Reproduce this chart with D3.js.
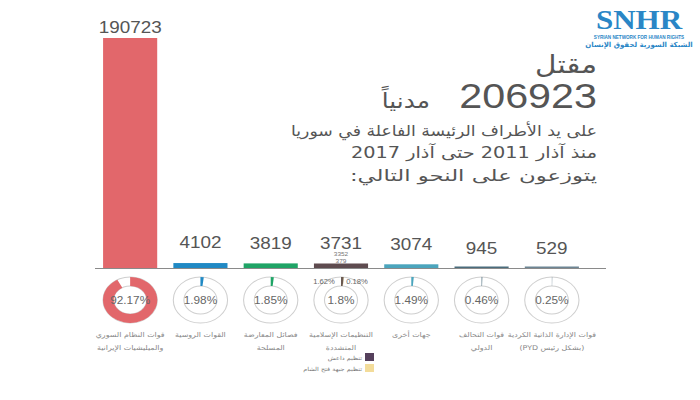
<!DOCTYPE html>
<html>
<head>
<meta charset="utf-8">
<script src="https://cdn.jsdelivr.net/npm/d3@7"></script>
<style>
  html, body { margin: 0; padding: 0; background: #fff; }
  svg { display: block; font-family: "Liberation Sans", "DejaVu Sans", sans-serif; }
</style>
</head>
<body>
<div id="chart"></div>
<script>
// ---- data ----
const categories = ["regime", "russia", "opposition", "extremist", "others", "coalition", "kurdish"];
const victims = [190723, 4102, 3819, 3731, 3074, 945, 529];
const shares = [92.17, 1.98, 1.85, 1.8, 1.49, 0.46, 0.25];
const shareLabels = ["92.17%", "1.98%", "1.85%", "1.8%", "1.49%", "0.46%", "0.25%"];
const barColors = ["#e2676b", "#2089c4", "#1fa466", "#5e4b4f", "#4ba5bd", "#4a6c7c", "#6d8594"];
const categoryLabels = [
  ["قوات النظام السوري", "والميليشيات الإيرانية"],
  ["القوات الروسية"],
  ["فصائل المعارضة", "المسلحة"],
  ["التنظيمات الإسلامية", "المتشددة"],
  ["جهات أخرى"],
  ["قوات التحالف", "الدولي"],
  ["قوات الإدارة الذاتية الكردية", "(بشكل رئيس PYD)"]
];
// split of the extremist groups
const subGroups = ["تنظيم داعش", "تنظيم جبهة فتح الشام"];
const subVictims = [3352, 379];
const subShares = [1.62, 0.18];
const subShareLabels = ["1.62%", "0.18%"];
const subColors = ["#55405c", "#f3dc9a"];

const W = 700, H = 400;
const SX = 1.18; // the picture is a bit wider than tall

const svg = d3.select("#chart").append("svg")
  .attr("width", W).attr("height", H);

// stretched text helper (rtl flips the anchor, svg anchors follow direction)
function stext(g, x, y, str, size, fill, anchor, rtl) {
  let a = anchor || "middle";
  if (rtl && a !== "middle") a = a === "end" ? "start" : "end";
  const t = g.append("text")
    .attr("transform", `translate(${x},${y}) scale(${SX},1)`)
    .attr("text-anchor", a)
    .attr("font-size", size)
    .attr("fill", fill)
    .text(str);
  if (rtl) t.attr("direction", "rtl").attr("font-family", "DejaVu Sans");
  return t;
}

// stretch a text horizontally so it spans a given width
function fitWidth(t, x, y, width) {
  const len = t.node().getComputedTextLength();
  t.attr("transform", `translate(${x},${y}) scale(${width / len},1)`);
}

// ---- scales ----
const baseY = 268;
const x = d3.scaleBand().domain(categories).range([95, 587]).paddingInner(0.23).paddingOuter(0.115);
const y = d3.scaleLinear().domain([0, d3.max(victims)]).range([baseY, 38]);

// ---- bars ----
const bars = svg.append("g");
categories.forEach((c, i) => {
  const h = Math.max(baseY - y(victims[i]), 1.5);
  bars.append("rect")
    .attr("x", x(c)).attr("width", x.bandwidth())
    .attr("y", baseY - h).attr("height", h)
    .attr("fill", barColors[i]);
  const cx = x(c) + x.bandwidth() / 2;
  const ly = h > 20 ? baseY - h - 5 : baseY - 12 - 1.6 * h;
  stext(bars, cx, ly, victims[i], 16, "#555");
});
svg.append("line")
  .attr("x1", 95).attr("x2", 606).attr("y1", baseY + 0.5).attr("y2", baseY + 0.5)
  .attr("stroke", "#8a8a8a").attr("stroke-width", 1);

// sub values under the extremist bar
const exCx = x("extremist") + x.bandwidth() / 2;
subVictims.forEach((v, j) => {
  stext(svg, exCx, 256 + j * 7, v, 5.5, "#777");
});

// ---- rings ----
const rOut = 23, rIn = 14, ringY = 300;
const arc = d3.arc().innerRadius(rIn).outerRadius(rOut);
const tau = 2 * Math.PI;
categories.forEach((c, i) => {
  const cx = x(c) + x.bandwidth() / 2;
  const g = svg.append("g").attr("transform", `translate(${cx},${ringY}) scale(${SX},1)`);
  g.append("circle").attr("r", rOut).attr("fill", "none").attr("stroke", "#cfcfcf").attr("stroke-width", 0.9);
  g.append("circle").attr("r", rIn).attr("fill", "none").attr("stroke", "#cfcfcf").attr("stroke-width", 0.9);
  if (c === "extremist") {
    let a0 = 0;
    subShares.forEach((s, j) => {
      const a1 = a0 + s / 100 * tau;
      g.append("path").attr("d", arc({ startAngle: a0, endAngle: a1 }))
        .attr("fill", j === 0 ? "#6b5a52" : "#c9b27a");
      a0 = a1;
    });
  } else {
    g.append("path").attr("d", arc({ startAngle: 0, endAngle: shares[i] / 100 * tau })).attr("fill", barColors[i]);
  }
  g.append("text").attr("y", 3.5).attr("text-anchor", "middle")
    .attr("font-size", 10).attr("fill", "#666").text(shareLabels[i]);

  categoryLabels[i].forEach((line, k) => {
    stext(svg, cx, 337 + k * 13, line, 6.7, "#888", "middle", true);
  });
});

// small share labels around the extremist ring
stext(svg, exCx - 17, 284, subShareLabels[0], 6.5, "#666");
stext(svg, exCx + 16, 284, subShareLabels[1], 6.5, "#666");

// legend for the extremist split
subGroups.forEach((name, j) => {
  const ly = 353 + j * 11;
  svg.append("rect").attr("x", 365).attr("y", ly).attr("width", 9).attr("height", 8).attr("fill", subColors[j]);
  stext(svg, 362, ly + 6.5, name, 5.5, "#777", "end", true);
});

// ---- header ----
const head = svg.append("g");
stext(head, 597, 73, "مقتل", 25, "#555", "end", true);
stext(head, 597, 108, "206923", 35, "#555", "end");
stext(head, 430, 108, "مدنياً", 21, "#555", "end", true);
const l1 = stext(head, 597, 136, "على يد الأطراف الرئيسة الفاعلة في سوريا", 15, "#555", "end", true);
fitWidth(l1, 597, 136, 306);
const l2 = stext(head, 597, 158, "منذ آذار 2011 حتى آذار 2017", 15.5, "#555", "end", true);
fitWidth(l2, 597, 158, 246);
const l3 = stext(head, 597, 181, "يتوزعون على النحو التالي:", 15.5, "#555", "end", true);
fitWidth(l3, 597, 181, 247);

// ---- logo ----
const logo = svg.append("g");
logo.append("text").attr("transform", `translate(639,29) scale(1.15,1)`)
  .attr("text-anchor", "middle").attr("font-family", "Liberation Serif")
  .attr("font-weight", "bold").attr("font-size", 27).attr("fill", "#2a86c6").text("SNHR");
logo.append("text").attr("x", 639).attr("y", 38.5).attr("text-anchor", "middle")
  .attr("font-size", 4.6).attr("fill", "#2a86c6").attr("font-weight", "bold")
  .text("SYRIAN NETWORK FOR HUMAN RIGHTS");
logo.append("text").attr("x", 639).attr("y", 47).attr("text-anchor", "middle")
  .attr("direction", "rtl")
  .attr("font-family", "DejaVu Sans").attr("font-size", 7).attr("fill", "#2a86c6").attr("font-weight", "bold")
  .text("الشبكة السورية لحقوق الإنسان");
</script>
</body>
</html>
